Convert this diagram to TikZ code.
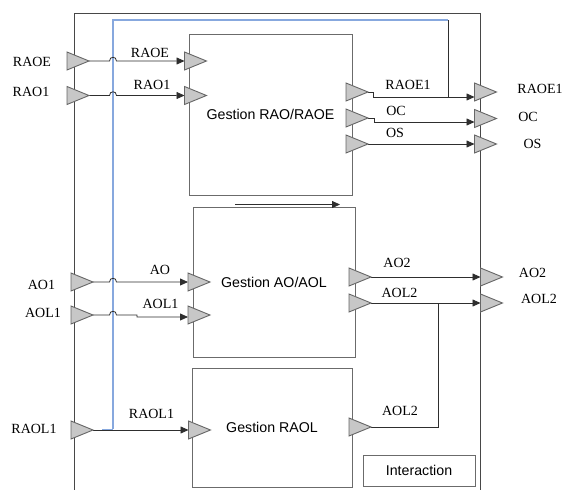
\documentclass[tikz,border=0pt]{standalone}
\usepackage{fontspec}
\setmainfont{Liberation Serif}
\newfontfamily\sansf{Liberation Sans}
\usetikzlibrary{arrows.meta,calc}
\definecolor{bluewire}{RGB}{135,168,222}
\begin{document}
\begin{tikzpicture}[x=1pt,y=-1pt,
  port/.style={minimum width=22pt,minimum height=18pt,inner sep=0pt,outer sep=0pt},
  block/.style={draw=black!58,line width=1pt,inner sep=0pt,font=\sansf\fontsize{14.2}{16}\selectfont},
  lbl/.style={inner sep=0pt,font=\fontsize{14}{16}\selectfont},
  wire/.style={draw=black!82,line width=0.8pt},
  arr/.style={wire,-{Triangle[length=8pt,width=7pt]}},
  tri/.style={fill=black!22,draw=black!60,line width=0.9pt,line join=miter},
  outer/.style={draw=black!72,line width=1pt},
  bwire/.style={draw=bluewire,line width=1.15pt},
  ]
\useasboundingbox (0,0) rectangle (563,490);
\fill[white] (0,0) rectangle (563,490);

% outer frame
\draw[outer] (74,492) -- (74,13) -- (480,13) -- (480,492);

% blocks
\node[block,minimum width=163pt,minimum height=161pt] (g1) at (270.5,114.5) {Gestion RAO/RAOE};
\node[block,minimum width=162pt,minimum height=150pt] (g2) at (274,282) {Gestion AO/AOL};
\node[block,minimum width=160pt,minimum height=119pt] (g3) at (272,427.5) {Gestion RAOL};
\node[block,minimum width=112pt,minimum height=31pt] (inter) at (419,470.5) {Interaction};

% ports
\node[port] (iRAOE) at (78,61) {};
\node[port] (iRAO1) at (78,95.5) {};
\node[port] (iAO1) at (82,282) {};
\node[port] (iAOL1) at (82,315) {};
\node[port] (iRAOL1) at (82,430) {};
\node[port] (b1i1) at (195.5,61) {};
\node[port] (b1i2) at (195.5,95.5) {};
\node[port] (b1o1) at (357,92) {};
\node[port] (b1o2) at (357,118) {};
\node[port] (b1o3) at (357,144) {};
\node[port] (oRAOE1) at (485.5,92) {};
\node[port] (oOC) at (485.5,118.5) {};
\node[port] (oOS) at (485.5,144) {};
\node[port] (b2i1) at (199,282) {};
\node[port] (b2i2) at (199,315) {};
\node[port] (b2o1) at (360,277) {};
\node[port] (b2o2) at (360,303) {};
\node[port] (oAO2) at (491.5,277) {};
\node[port] (oAOL2) at (491.5,303) {};
\node[port] (b3i) at (199.5,430) {};
\node[port] (b3o) at (360,427) {};

% blue interaction line
\coordinate (bt) at (113,20);
\coordinate (bc) at (448,20);
\draw[bwire] (113,429) -- (bt) -- (bc);
\draw[wire] (bc) -- (448,97);

% wires
\draw[arr] (iRAOE.east) -- (109.5,61) .. controls (109.5,56) and (116.5,56) .. (116.5,61) -- (b1i1.west);
\draw[arr] (iRAO1.east) -- (109.5,95.5) .. controls (109.5,90.5) and (116.5,90.5) .. (116.5,95.5) -- (b1i2.west);
\draw[arr] (b1o1.east) -- ++(5,0) |- ($(oRAOE1.west)+(0,5)$);
\draw[arr] (b1o2.east) -- ++(6,0) |- ($(oOC.west)+(0,3.5)$);
\draw[arr] (b1o3.east) -- (oOS.west);

\draw[arr] (iAO1.east) -- (109.5,282) .. controls (109.5,277) and (116.5,277) .. (116.5,282) -- (b2i1.west);
\draw[arr] (iAOL1.east) -- (109.5,315) .. controls (109.5,310) and (116.5,310) .. (116.5,315) -- (137,315) -- (137,317) -- ($(b2i2.west)+(0,2)$);
\draw[arr] (b2o1.east) -- (oAO2.west);
\draw[arr] (b2o2.east) -- (oAOL2.west);
\coordinate (j) at (438,303);
\draw[wire] (b3o.east) -| (j);

\draw[arr] (iRAOL1.east) -- (b3i.west);
\draw[bwire] (102,429.2) -- (113,429.2);

\coordinate (ta) at (235,204.5);
\coordinate (tb) at (340,204.5);
\draw[arr] (ta) -- (tb);

% triangles
\foreach \n in {iRAOE,iRAO1,iAO1,iAOL1,iRAOL1,b1i1,b1i2,b1o1,b1o2,b1o3,oRAOE1,oOC,oOS,b2i1,b2i2,b2o1,b2o2,oAO2,oAOL2,b3i,b3o}
  \draw[tri] (\n.north west) -- (\n.east) -- (\n.south west) -- cycle;

% labels
\node[lbl] (l1) at (32,62) {RAOE};
\node[lbl] (l2) at (31,92) {RAO1};
\node[lbl] (l3) at (41.5,285) {AO1};
\node[lbl] (l4) at (43,313) {AOL1};
\node[lbl] (l5) at (34,429) {RAOL1};
\node[lbl] (l6) at (150,52.5) {RAOE};
\node[lbl] (l7) at (152,85) {RAO1};
\node[lbl] (l8) at (160,270) {AO};
\node[lbl] (l9) at (160.5,304) {AOL1};
\node[lbl] (l10) at (151.5,414) {RAOL1};
\node[lbl] (l11) at (408,85) {RAOE1};
\node[lbl] (l12) at (396,111) {OC};
\node[lbl] (l13) at (395,132.5) {OS};
\node[lbl] (l14) at (397,263) {AO2};
\node[lbl] (l15) at (399.5,293) {AOL2};
\node[lbl] (l16) at (400,411) {AOL2};
\node[lbl] (l17) at (540,89) {RAOE1};
\node[lbl] (l18) at (528,117) {OC};
\node[lbl] (l19) at (532.5,144) {OS};
\node[lbl] (l20) at (532.5,273) {AO2};
\node[lbl] (l21) at (539,299) {AOL2};
\end{tikzpicture}
\end{document}
